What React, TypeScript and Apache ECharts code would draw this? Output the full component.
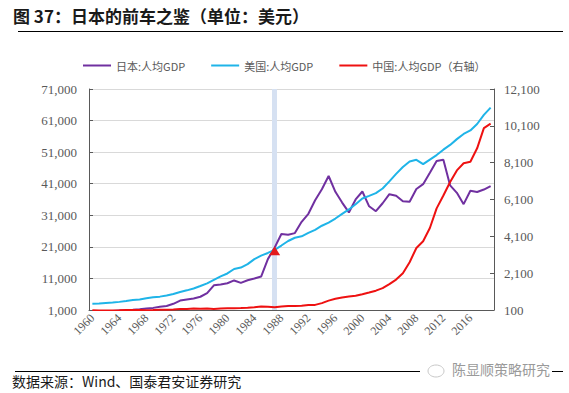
import React, { useEffect, useRef } from "react";
import * as echarts from "echarts";

const years: string[] = [];
for (let y = 1960; y <= 2019; y++) years.push(String(y));

const japan = [479, 563, 633, 717, 836, 919, 1059, 1229, 1451, 1669, 2037, 2272, 2967, 3997, 4354, 4659, 5197, 6335, 8821, 9105, 9465, 10361, 9578, 10425, 10979, 11585, 17112, 20745, 25052, 24813, 25359, 28925, 31465, 35766, 39269, 43440, 38437, 35022, 31903, 36027, 38532, 33846, 32289, 34808, 37688, 37218, 35434, 35275, 39339, 40855, 44508, 48168, 48603, 40454, 38109, 34524, 38761, 38387, 39159, 40247];
const usa = [3007, 3067, 3244, 3375, 3574, 3828, 4146, 4336, 4696, 5032, 5234, 5609, 6094, 6726, 7226, 7801, 8592, 9453, 10565, 11674, 12575, 13976, 14434, 15544, 17121, 18237, 19071, 20039, 21417, 22857, 23889, 24342, 25419, 26387, 27695, 28691, 29968, 31459, 32854, 34515, 36330, 37134, 37998, 39490, 41725, 44123, 46302, 48050, 48570, 47195, 48651, 50066, 51784, 53291, 55124, 56763, 57867, 59915, 62805, 65118];
const china = [90, 76, 70, 74, 85, 98, 104, 97, 91, 100, 113, 119, 132, 157, 160, 178, 165, 185, 156, 184, 195, 197, 203, 225, 251, 294, 282, 252, 284, 311, 318, 333, 366, 377, 473, 610, 709, 782, 829, 873, 959, 1053, 1149, 1289, 1509, 1753, 2099, 2694, 3468, 3832, 4550, 5618, 6317, 7051, 7679, 8067, 8148, 8879, 9977, 10217];

const leftTicks = [1000, 11000, 21000, 31000, 41000, 51000, 61000, 71000];
const rightTicks = [100, 2100, 4100, 6100, 8100, 10100, 12100];
const highlightYear = "1987";
const crossValue = 19800;

const seriesNames = ["日本:人均GDP", "美国:人均GDP", "中国:人均GDP（右轴）"];

const fmt = (v: number) => v.toLocaleString("en-US");

export default function App() {
  const ref = useRef<HTMLDivElement>(null);
  useEffect(() => {
    if (!ref.current) return;
    const chart = echarts.init(ref.current, undefined, { renderer: "svg" });
    const axisColor = "#595959";
    const labelFont = { color: "#595959", fontFamily: "Liberation Serif", fontSize: 13 };
    chart.setOption({
      animation: false,
      backgroundColor: "#ffffff",
      grid: { left: 89, right: 75, top: 89, bottom: 83, containLabel: false },
      legend: {
        data: seriesNames,
        left: 78,
        top: 55,
        itemWidth: 28,
        itemHeight: 2,
        itemGap: 26,
        icon: "rect",
        textStyle: { color: "#595959", fontFamily: "Noto Sans CJK SC", fontSize: 11 },
      },
      graphic: [
        {
          type: "text",
          left: 13,
          top: 7,
          style: { text: "图 37：日本的前车之鉴（单位：美元）", fill: "#1a1a1a", font: "bold 17px 'Noto Sans CJK SC'" },
        },
        { type: "line", shape: { x1: 18, y1: 31.5, x2: 563, y2: 31.5 }, style: { stroke: "#000", lineWidth: 1 } },
        { type: "line", shape: { x1: 15, y1: 371.5, x2: 563, y2: 371.5 }, style: { stroke: "#000", lineWidth: 1 } },
        { type: "rect", shape: { x: 420, y: 362, width: 132, height: 18 }, style: { fill: "#ffffff" } },
        { type: "ellipse", shape: { cx: 436, cy: 371, rx: 8, ry: 6 }, style: { fill: "none", stroke: "#c8c8c8", lineWidth: 1 } },
        {
          type: "text",
          left: 452,
          top: 362,
          style: { text: "陈显顺策略研究", fill: "#9a9a9a", font: "14px 'Noto Sans CJK SC'" },
        },
        {
          type: "text",
          left: 12,
          top: 374,
          style: { text: "数据来源：Wind、国泰君安证券研究", fill: "#1a1a1a", font: "14px 'Noto Sans CJK SC'" },
        },
      ],
      xAxis: {
        type: "category",
        data: years,
        boundaryGap: true,
        axisLine: { lineStyle: { color: axisColor, width: 1 } },
        axisTick: { interval: 3, length: 4, lineStyle: { color: axisColor } },
        axisLabel: { ...labelFont, fontSize: 12, interval: 3, rotate: 45, margin: 6 },
        splitLine: { show: false },
      },
      yAxis: [
        {
          type: "value",
          min: 1000,
          max: 71000,
          axisLine: { show: true, lineStyle: { color: axisColor } },
          axisTick: { show: true, inside: true, length: 4, customValues: leftTicks, lineStyle: { color: axisColor } },
          axisLabel: { ...labelFont, customValues: leftTicks, margin: 12, formatter: (v: number) => fmt(v) },
          splitLine: { show: true, lineStyle: { color: "#d9d9d9", width: 1 } },
        },
        {
          type: "value",
          min: 100,
          max: 12100,
          position: "right",
          axisLine: { show: true, lineStyle: { color: axisColor } },
          axisTick: { show: true, inside: true, length: 4, customValues: rightTicks, lineStyle: { color: axisColor } },
          axisLabel: { ...labelFont, customValues: rightTicks, margin: 10, formatter: (v: number) => fmt(v) },
          splitLine: { show: false },
        },
      ],
      series: [
        {
          name: seriesNames[0],
          type: "line",
          data: japan,
          yAxisIndex: 0,
          showSymbol: false,
          symbol: "none",
          z: 3,
          lineStyle: { color: "#7030a0", width: 2 },
          itemStyle: { color: "#7030a0" },
          markLine: {
            z: 1,
            silent: true,
            symbol: ["none", "none"],
            label: { show: false },
            lineStyle: { color: "#d6e1f2", width: 5, type: "solid" },
            data: [{ xAxis: highlightYear }],
          },
        },
        {
          name: seriesNames[1],
          type: "line",
          data: usa,
          yAxisIndex: 0,
          showSymbol: false,
          symbol: "none",
          z: 3,
          lineStyle: { color: "#1fb4e8", width: 2 },
          itemStyle: { color: "#1fb4e8" },
          markPoint: {
            z: 6,
            silent: true,
            symbol: "triangle",
            symbolSize: [11, 9],
            label: { show: false },
            itemStyle: { color: "#e31a1c" },
            data: [{ coord: [highlightYear, crossValue] }],
          },
        },
        {
          name: seriesNames[2],
          type: "line",
          data: china,
          yAxisIndex: 1,
          showSymbol: false,
          symbol: "none",
          z: 3,
          lineStyle: { color: "#ee1111", width: 2 },
          itemStyle: { color: "#ee1111" },
        },
      ],
    });
    return () => chart.dispose();
  }, []);
  return <div ref={ref} style={{ width: 569, height: 393, position: "absolute", left: 0, top: 0 }} />;
}
